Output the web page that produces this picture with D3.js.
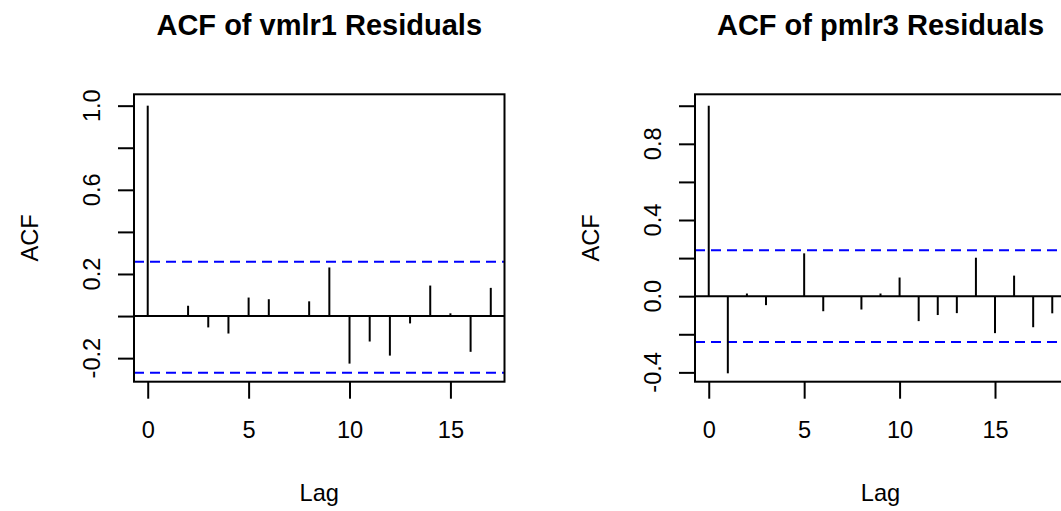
<!DOCTYPE html>
<html>
<head>
<meta charset="utf-8">
<script src="https://cdn.jsdelivr.net/npm/d3@7"></script>
<style>
  html, body { margin: 0; padding: 0; background: #fff; }
  svg { display: block; }
  text { font-family: "Liberation Sans", Arial, sans-serif; fill: #000; }
</style>
</head>
<body>
<script>
// Lags and autocorrelations of the residuals of the two models
const lagsVmlr1 = [0, 1, 2, 3, 4, 5, 6, 7, 8, 9, 10, 11, 12, 13, 14, 15, 16, 17];
const acfVmlr1  = [1.000, 0.000, 0.049, -0.054, -0.083, 0.088, 0.080, 0.000, 0.070,
                   0.231, -0.226, -0.121, -0.188, -0.035, 0.145, 0.013, -0.170, 0.134];
const ciVmlr1   = [-0.270, 0.258];

const lagsPmlr3 = [0, 1, 2, 3, 4, 5, 6, 7, 8, 9, 10, 11, 12, 13, 14, 15, 16, 17, 18];
const acfPmlr3  = [1.000, -0.405, 0.014, -0.047, 0.000, 0.225, -0.079, 0.000, -0.070,
                   0.014, 0.098, -0.131, -0.099, -0.089, 0.202, -0.194, 0.108, -0.163, -0.090];
const ciPmlr3   = [-0.241, 0.241];

// Axis ticks and the tick labels that are printed
const lagTicks = [0, 5, 10, 15];
const acfTicksVmlr1  = [-0.2, 0.0, 0.2, 0.4, 0.6, 0.8, 1.0];
const acfLabelsVmlr1 = ["-0.2", "0.2", "0.6", "1.0"];
const acfTicksPmlr3  = [-0.4, -0.2, 0.0, 0.2, 0.4, 0.6, 0.8, 1.0];
const acfLabelsPmlr3 = ["-0.4", "0.0", "0.4", "0.8"];

const titles = ["ACF of vmlr1 Residuals", "ACF of pmlr3 Residuals"];

const W = 1061, H = 511;
const svg = d3.select("body").append("svg").attr("width", W).attr("height", H);

const panels = [
  { title: titles[0], lags: lagsVmlr1, acf: acfVmlr1, ci: ciVmlr1,
    yTicks: acfTicksVmlr1, yLabels: acfLabelsVmlr1,
    xDom: [-0.68, 17.68], yDom: [-0.312, 1.054],
    left: 134, right: 504.5, top: 94.3, bottom: 381.7 },
  { title: titles[1], lags: lagsPmlr3, acf: acfPmlr3, ci: ciPmlr3,
    yTicks: acfTicksPmlr3, yLabels: acfLabelsPmlr3,
    xDom: [-0.72, 18.72], yDom: [-0.449, 1.060],
    left: 695, right: 1066, top: 94.3, bottom: 381.7 }
];

const FS = 23.6;

panels.forEach(p => {
  const x = d3.scaleLinear().domain(p.xDom).range([p.left, p.right]);
  const y = d3.scaleLinear().domain(p.yDom).range([p.bottom, p.top]);
  const g = svg.append("g");
  const cx = (p.left + p.right) / 2;
  const cy = (p.top + p.bottom) / 2;

  // Title
  g.append("text")
    .attr("x", cx).attr("y", 34.5)
    .attr("text-anchor", "middle")
    .attr("font-weight", "bold")
    .attr("font-size", 29)
    .text(p.title);

  // Confidence bounds
  g.selectAll("line.ci").data(p.ci).enter().append("line")
    .attr("class", "ci")
    .attr("x1", p.left).attr("x2", p.right)
    .attr("y1", d => y(d)).attr("y2", d => y(d))
    .attr("stroke", "#0000ff").attr("stroke-width", 2)
    .attr("stroke-dasharray", "10,6");

  // Zero line
  g.append("line")
    .attr("x1", p.left).attr("x2", p.right)
    .attr("y1", y(0)).attr("y2", y(0))
    .attr("stroke", "#000").attr("stroke-width", 2);

  // ACF spikes
  g.selectAll("line.spike").data(p.lags).enter().append("line")
    .attr("class", "spike")
    .attr("x1", d => x(d)).attr("x2", d => x(d))
    .attr("y1", y(0)).attr("y2", (d, i) => y(p.acf[i]))
    .attr("stroke", "#000").attr("stroke-width", 2);

  // Bottom axis
  const xAxis = d3.axisBottom(x).tickValues(lagTicks).tickSize(17).tickSizeOuter(0)
    .tickFormat(d3.format("d")).tickPadding(0);
  const gx = g.append("g").attr("transform", `translate(0,${p.bottom})`).call(xAxis);
  gx.select(".domain").remove();
  gx.selectAll(".tick line").attr("stroke", "#000").attr("stroke-width", 2);
  gx.selectAll(".tick text")
    .attr("y", 438.5 - p.bottom).attr("dy", null)
    .attr("font-size", FS).attr("font-family", "Liberation Sans, Arial, sans-serif")
    .attr("fill", "#000");

  // Left axis: all tick marks, labels on the printed subset
  const yAxis = d3.axisLeft(y).tickValues(p.yTicks).tickSize(16).tickSizeOuter(0)
    .tickFormat("");
  const gy = g.append("g").attr("transform", `translate(${p.left},0)`).call(yAxis);
  gy.select(".domain").remove();
  gy.selectAll(".tick line").attr("stroke", "#000").attr("stroke-width", 2);

  g.selectAll("text.ylab").data(p.yLabels).enter().append("text")
    .attr("class", "ylab")
    .attr("font-size", FS)
    .attr("text-anchor", "middle")
    .attr("transform", d => `translate(${p.left - 34},${y(+d)}) rotate(-90)`)
    .text(d => d);

  // Axis titles
  g.append("text")
    .attr("x", cx).attr("y", 500.5)
    .attr("text-anchor", "middle")
    .attr("font-size", FS)
    .text("Lag");
  g.append("text")
    .attr("transform", `translate(${p.left - 96},${cy}) rotate(-90)`)
    .attr("text-anchor", "middle")
    .attr("font-size", FS)
    .text("ACF");

  // Plot frame
  g.append("rect")
    .attr("x", p.left).attr("y", p.top)
    .attr("width", p.right - p.left).attr("height", p.bottom - p.top)
    .attr("fill", "none").attr("stroke", "#000").attr("stroke-width", 2);
});
</script>
</body>
</html>
